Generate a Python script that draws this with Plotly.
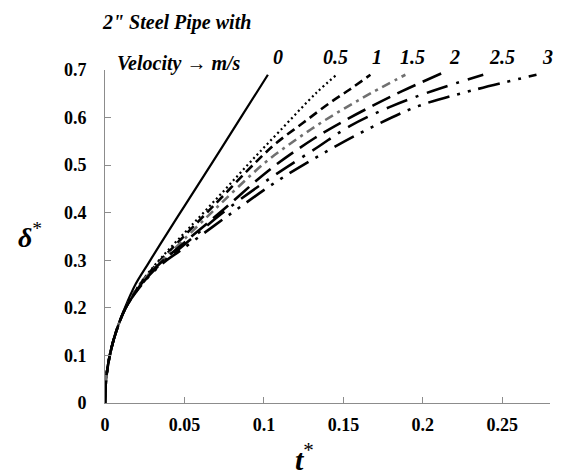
import plotly.graph_objects as go

# ---- data ----
velocity_labels = ["0", "0.5", "1", "1.5", "2", "2.5", "3"]

t_v0 = [0, 0.0007, 0.003, 0.007, 0.0125, 0.0193, 0.027, 0.0346, 0.05, 0.068, 0.0858, 0.1025]
d_v0 = [0, 0.05, 0.1, 0.15, 0.2, 0.25, 0.292, 0.333, 0.414, 0.508, 0.602, 0.69]

t_v05 = [0, 0.0007, 0.003, 0.007, 0.013, 0.0219, 0.0314, 0.040, 0.0535, 0.0723, 0.091, 0.110, 0.133, 0.1457]
d_v05 = [0, 0.05, 0.1, 0.15, 0.2, 0.25, 0.29, 0.322, 0.37, 0.437, 0.505, 0.572, 0.652, 0.69]

t_v1 = [0, 0.0007, 0.003, 0.007, 0.013, 0.0222, 0.032, 0.0413, 0.067, 0.0954, 0.108, 0.1247, 0.1415, 0.154, 0.167]
d_v1 = [0, 0.05, 0.1, 0.15, 0.2, 0.25, 0.29, 0.322, 0.41, 0.508, 0.547, 0.589, 0.631, 0.659, 0.69]

t_v15 = [0, 0.0007, 0.003, 0.007, 0.013, 0.0225, 0.0328, 0.043, 0.07, 0.1006, 0.1174, 0.134, 0.151, 0.1677, 0.189]
d_v15 = [0, 0.05, 0.1, 0.15, 0.2, 0.25, 0.29, 0.322, 0.41, 0.505, 0.547, 0.585, 0.62, 0.652, 0.69]

t_v2 = [0, 0.0007, 0.003, 0.007, 0.013, 0.0228, 0.0335, 0.0445, 0.074, 0.1038, 0.132, 0.151, 0.1685, 0.1866, 0.2117]
d_v2 = [0, 0.05, 0.1, 0.15, 0.2, 0.25, 0.29, 0.322, 0.405, 0.491, 0.557, 0.594, 0.625, 0.655, 0.693]

t_v25 = [0, 0.0007, 0.003, 0.007, 0.013, 0.0231, 0.0342, 0.046, 0.076, 0.105, 0.133, 0.154, 0.179, 0.206, 0.238]
d_v25 = [0, 0.05, 0.1, 0.15, 0.2, 0.25, 0.29, 0.322, 0.405, 0.475, 0.536, 0.582, 0.622, 0.656, 0.69]

t_v3 = [0, 0.0007, 0.003, 0.007, 0.013, 0.0235, 0.035, 0.048, 0.08, 0.11, 0.14, 0.168, 0.197, 0.231, 0.2715]
d_v3 = [0, 0.05, 0.1, 0.15, 0.2, 0.25, 0.29, 0.322, 0.4, 0.47, 0.53, 0.58, 0.624, 0.657, 0.69]

label_t = [0.1088, 0.1453, 0.1711, 0.1937, 0.2201, 0.2497, 0.2786]

x_tickvals = [0, 0.05, 0.1, 0.15, 0.2, 0.25]
x_ticktext = ["0", "0.05", "0.1", "0.15", "0.2", "0.25"]
y_tickvals = [0, 0.1, 0.2, 0.3, 0.4, 0.5, 0.6, 0.7]
y_ticktext = ["0", "0.1", "0.2", "0.3", "0.4", "0.5", "0.6", "0.7"]

series_t = [t_v0, t_v05, t_v1, t_v15, t_v2, t_v25, t_v3]
series_d = [d_v0, d_v05, d_v1, d_v15, d_v2, d_v25, d_v3]
styles = [
    dict(color="black", width=2.2, dash="solid"),
    dict(color="black", width=2.2, dash="2px,3px"),
    dict(color="black", width=2.6, dash="9px,5px"),
    dict(color="#707070", width=2.6, dash="9px,5px,3px,5px"),
    dict(color="black", width=2.6, dash="20px,8px"),
    dict(color="black", width=2.6, dash="22px,9px,3px,9px"),
    dict(color="black", width=2.6, dash="22px,8px,3px,8px,3px,8px"),
]

SERIF = "Liberation Serif"

# page body has an 8px margin: plot area target (page px) x 105..550, y 70..403
OX, OY = 8, 8
L, R, T, B = 105 - OX, 11, 70 - OY, 68
W, H = 561 - OX, 471 - OY
PW, PH = 550 - 105, 403 - 70


def px_x(p):
    return (p - 105) / PW


def px_y(p):
    return (403 - p) / PH


fig = go.Figure()
for name, tt, dd, st in zip(velocity_labels, series_t, series_d, styles):
    fig.add_trace(go.Scatter(x=tt, y=dd, mode="lines", name=name,
                             line=dict(shape="spline", smoothing=1.0, **st),
                             hoverinfo="skip"))

for lab, lt in zip(velocity_labels, label_t):
    fig.add_annotation(x=lt, y=px_y(57), xref="x", yref="paper", text=f"<b><i>{lab}</i></b>",
                       xanchor="center", yanchor="middle",
                       showarrow=False, font=dict(family=SERIF, size=20, color="black"))

fig.add_annotation(xref="paper", yref="paper", x=px_x(176), y=px_y(23),
                   xanchor="center", yanchor="middle",
                   text='<b><i>2" Steel Pipe with</i></b>', showarrow=False,
                   font=dict(family=SERIF, size=20, color="black"))
fig.add_annotation(xref="paper", yref="paper", x=px_x(179), y=px_y(64),
                   xanchor="center", yanchor="middle",
                   text="<b><i>Velocity → m/s</i></b>", showarrow=False,
                   font=dict(family=SERIF, size=20, color="black"))
fig.add_annotation(xref="paper", yref="paper", x=px_x(30), y=px_y(235),
                   xanchor="center", yanchor="middle",
                   text="<b><i>δ</i></b><sup>*</sup>", showarrow=False,
                   font=dict(family=SERIF, size=28, color="black"))
fig.add_annotation(xref="paper", yref="paper", x=px_x(304), y=px_y(457),
                   xanchor="center", yanchor="middle",
                   text="<b><i>t</i></b><sup>*</sup>", showarrow=False,
                   font=dict(family=SERIF, size=30, color="black"))

axis_common = dict(showgrid=False, zeroline=False, showline=True, linecolor="#8c8c8c",
                   linewidth=1, ticks="inside", ticklen=6, tickcolor="#8c8c8c",
                   tickfont=dict(family=SERIF, size=18, color="black", weight="bold"))

fig.update_xaxes(range=[0, 0.28], tickvals=x_tickvals, ticktext=x_ticktext,
                 ticklabelstandoff=5, **axis_common)
fig.update_yaxes(range=[0, 0.7], tickvals=y_tickvals, ticktext=y_ticktext,
                 ticklabelstandoff=14, **axis_common)

fig.update_layout(width=W, height=H, margin=dict(l=L, r=R, t=T, b=B),
                  paper_bgcolor="white", plot_bgcolor="white", showlegend=False)

fig.write_html("out.html")
